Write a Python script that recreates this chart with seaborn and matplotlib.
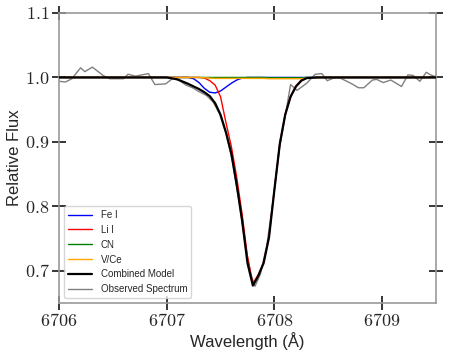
import matplotlib

matplotlib.use("Agg")
import matplotlib.pyplot as plt
import pandas as pd
import seaborn as sns
from matplotlib.ticker import FuncFormatter, MultipleLocator

# model grid (Angstrom) shared by all synthetic components
model_wl = [6706.00, 6707.00, 6707.10, 6707.20, 6707.25, 6707.30, 6707.35, 6707.40,
            6707.45, 6707.50, 6707.55, 6707.60, 6707.65, 6707.70, 6707.75, 6707.80,
            6707.85, 6707.90, 6707.95, 6708.00, 6708.05, 6708.10, 6708.15, 6708.20,
            6708.25, 6708.30, 6708.40, 6709.50]
fe_i = [1.000, 1.000, 1.000, 1.000, 0.998, 0.992, 0.983, 0.977, 0.976, 0.979, 0.985,
        0.991, 0.996, 0.999, 1.000, 1.000, 1.000, 1.000, 1.000, 1.000, 1.000, 1.000,
        1.000, 1.000, 1.000, 1.000, 1.000, 1.000]
li_i = [1.000, 1.000, 1.000, 1.000, 1.000, 1.000, 0.999, 0.995, 0.988, 0.970, 0.930,
        0.893, 0.845, 0.788, 0.722, 0.680, 0.694, 0.713, 0.753, 0.827, 0.898, 0.943,
        0.971, 0.987, 0.996, 0.999, 1.000, 1.000]
cn = [1.000, 1.000, 1.000, 1.000, 1.000, 1.000, 1.000, 1.000, 1.000, 1.000, 1.000,
      1.000, 1.000, 1.000, 1.000, 1.000, 1.000, 1.000, 0.9995, 0.9995, 0.9995, 0.9995,
      0.9995, 0.9995, 0.9995, 1.000, 1.000, 1.000]
v_ce = [1.000, 1.000, 1.000, 1.000, 1.000, 1.000, 0.9995, 0.999, 0.9985, 0.9985, 0.9985,
        0.9985, 0.9985, 0.9985, 0.9985, 0.9985, 0.9985, 0.9985, 0.998, 0.998, 0.998,
        0.998, 0.998, 0.998, 0.998, 0.999, 1.000, 1.000]
combined = [1.000, 1.000, 0.997, 0.990, 0.986, 0.982, 0.977, 0.971, 0.960, 0.942, 0.915,
            0.882, 0.833, 0.778, 0.712, 0.677, 0.692, 0.712, 0.752, 0.826, 0.897, 0.942,
            0.970, 0.986, 0.995, 0.999, 1.000, 1.000]

obs_wl = [6706.00, 6706.06, 6706.12, 6706.20, 6706.24, 6706.31, 6706.41, 6706.47,
          6706.60, 6706.64, 6706.71, 6706.83, 6706.89, 6706.99, 6707.06, 6707.12,
          6707.18, 6707.24, 6707.30, 6707.37, 6707.43, 6707.49, 6707.55, 6707.61,
          6707.67, 6707.73, 6707.78, 6707.82, 6707.87, 6707.93, 6707.99, 6708.05,
          6708.10, 6708.15, 6708.21, 6708.30, 6708.38, 6708.44, 6708.49, 6708.55,
          6708.60, 6708.72, 6708.78, 6708.83, 6708.91, 6708.95, 6709.01, 6709.08,
          6709.18, 6709.24, 6709.29, 6709.35, 6709.41, 6709.45, 6709.50]
obs_flux = [0.994, 0.993, 0.998, 1.015, 1.009, 1.016, 1.003, 0.998, 0.998, 1.005, 1.002,
            1.006, 0.989, 0.990, 0.999, 0.995, 0.988, 0.984, 0.978, 0.972, 0.962, 0.944,
            0.913, 0.870, 0.810, 0.740, 0.695, 0.676, 0.695, 0.740, 0.812, 0.893, 0.940,
            0.989, 0.980, 0.991, 1.005, 1.006, 0.995, 0.999, 1.000, 0.990, 0.984, 0.984,
            0.996, 0.997, 0.992, 0.996, 0.986, 1.004, 1.003, 0.994, 1.008, 1.004, 1.001]

x_ticks = [6706, 6707, 6708, 6709]
y_ticks = [0.7, 0.8, 0.9, 1.0, 1.1]

sns.set_theme(style="ticks")
plt.rcParams["font.family"] = ["Liberation Sans", "DejaVu Sans"]
plt.rcParams["mathtext.fontset"] = "cm"

models = pd.DataFrame({"wl": model_wl, "Fe I": fe_i, "Li I": li_i, "CN": cn,
                       "V/Ce": v_ce, "Combined Model": combined})
observed = pd.DataFrame({"wl": obs_wl, "flux": obs_flux})

fig = plt.figure(figsize=(4.49, 3.6), dpi=100)
ax = fig.add_axes([0.1314, 0.1583, 0.8396, 0.8056])

sns.lineplot(data=observed, x="wl", y="flux", ax=ax, color="gray", lw=1.0,
             label="Observed Spectrum", zorder=1)
colors = {"Fe I": "blue", "Li I": "red", "CN": "green", "V/Ce": "orange"}
for name, color in colors.items():
    sns.lineplot(data=models, x="wl", y=name, ax=ax, color=color, lw=1.0,
                 label=name, zorder=2)
sns.lineplot(data=models, x="wl", y="Combined Model", ax=ax, color="black", lw=1.6,
             label="Combined Model", zorder=3)

ax.set_xlim(6706, 6709.5)
ax.set_ylim(0.65, 1.1)
ax.xaxis.set_major_locator(MultipleLocator(1))
ax.set_yticks(y_ticks)
ax.set_xticks(x_ticks)
ax.xaxis.set_major_formatter(FuncFormatter(lambda v, _: f"${v:.0f}$"))
ax.yaxis.set_major_formatter(FuncFormatter(lambda v, _: f"${v:.1f}$"))
ax.tick_params(direction="inout", length=10, width=1.1, color="black",
               top=True, right=True, labelsize=13, pad=2)
for spine in ax.spines.values():
    spine.set_color("#999999")
    spine.set_linewidth(1.2)

ax.set_xlabel("Wavelength (Å)", fontsize=12, labelpad=2)
ax.set_ylabel("Relative Flux", fontsize=12, labelpad=2)

handles, labels = ax.get_legend_handles_labels()
order = ["Fe I", "Li I", "CN", "V/Ce", "Combined Model", "Observed Spectrum"]
lookup = dict(zip(labels, handles))
ax.legend([lookup[k] for k in order], order, loc="lower left", fontsize=7,
          handlelength=2.5, handletextpad=0.9, borderaxespad=0.5)

fig.savefig("out.png", dpi=100)
